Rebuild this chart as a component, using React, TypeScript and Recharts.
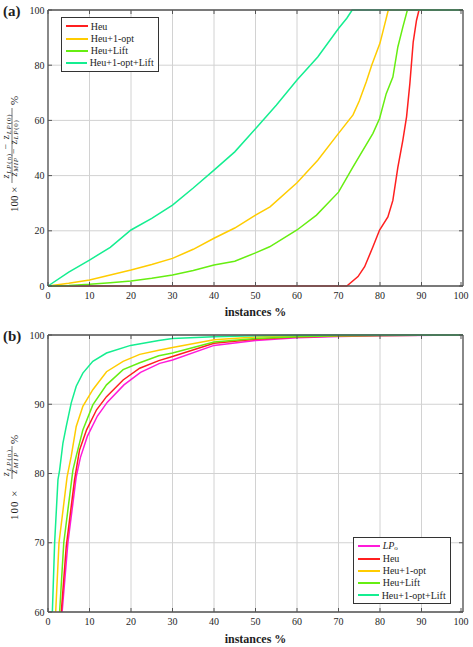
import React from "react";
import { CartesianGrid, Legend, Line, LineChart, ReferenceLine, XAxis, YAxis } from "recharts";

const FONT = "'Liberation Serif', 'DejaVu Serif', serif";
const INK = "#1e1e1e";
const FRAME = "#555555";
const GRID = "#d2d2d2";

const LP0_COLOR = "#ff1ad9";
const HEU_COLOR = "#ff1f1f";
const OPT_COLOR = "#ffcc00";
const LIFT_COLOR = "#66ee11";
const BOTH_COLOR = "#14ee90";

const xTicks = [0, 10, 20, 30, 40, 50, 60, 70, 80, 90, 100];
const yTicksA = [0, 20, 40, 60, 80, 100];
const yTicksB = [60, 70, 80, 90, 100];

// (a) gap closed, per share of instances
const heuAX = [0, 72, 74.7, 76.3, 78.3, 79.9, 81.9, 83.1, 84.3, 85.5, 86.4, 87.2, 88, 88.8, 89.4, 100];
const heuAY = [0, 0, 3.4, 7, 14.2, 20.3, 25, 31, 43, 52.8, 61.3, 73.4, 88.4, 96.3, 100, 100];
const optAX = [0, 5, 10, 15, 20, 25, 30, 35, 40, 45, 50, 53.5, 60, 65, 70, 73.5, 75, 76.7, 78, 80, 81, 82, 100];
const optAY = [0, 1, 2.2, 4, 5.8, 7.8, 10, 13.3, 17.3, 21, 25.7, 28.7, 37.4, 45.6, 55.3, 62, 67, 74, 80, 88, 94, 100, 100];
const liftAX = [0, 5, 10, 15, 20, 25, 30, 35, 40, 45, 50, 53.4, 60, 64.7, 70, 73.5, 78.3, 79.9, 81.5, 83.1, 84.3, 85.5, 86.6, 100];
const liftAY = [0, 0.2, 0.6, 1.2, 1.8, 2.8, 4, 5.6, 7.6, 9, 12, 14.2, 20.3, 25.7, 34, 43.2, 55.3, 60.7, 69.7, 75.7, 86.6, 93.8, 100, 100];
const bothAX = [0, 5, 10, 15, 20, 25, 30, 35, 40, 45, 50, 55, 60, 65, 70, 72, 73.3, 100];
const bothAY = [0, 5, 9.4, 14, 20.3, 24.5, 29.3, 35.5, 42, 48.6, 57, 65.5, 74.6, 83, 93.3, 97, 100, 100];

// (b) LP bound vs MIP, per share of instances
const lp0BX = [3.4, 4.8, 6.8, 7.8, 9.5, 11.9, 14.3, 18.3, 22.3, 26.9, 30, 40, 50, 60, 70, 80, 100];
const lp0BY = [60, 70, 79.5, 82.3, 85.4, 88.3, 90.3, 92.8, 94.6, 95.9, 96.4, 98.5, 99.2, 99.6, 99.8, 99.9, 100];
const heuBX = [3.2, 4.4, 6.4, 7.6, 9.3, 11.7, 14.1, 18.1, 22.1, 26.7, 30, 40, 50, 60, 70, 80, 100];
const heuBY = [60, 69.5, 79.1, 83.4, 86.3, 89.2, 91.1, 93.5, 95.2, 96.3, 96.9, 98.8, 99.4, 99.7, 99.85, 99.93, 100];
const optBX = [1.85, 2.65, 4.6, 5.6, 6.8, 8.4, 10.8, 14.1, 18.1, 22.1, 26.7, 30, 40, 50, 60, 70, 80, 100];
const optBY = [60, 70, 79.5, 82.5, 86.8, 89.7, 92.1, 94.7, 96.2, 97.2, 97.8, 98.2, 99.3, 99.7, 99.85, 99.92, 99.96, 100];
const liftBX = [2.8, 3.8, 6, 6.8, 8.4, 10.8, 14.1, 18.1, 22.1, 26.7, 30, 40, 50, 60, 70, 80, 100];
const liftBY = [60, 70, 80.5, 82.5, 86.3, 89.9, 92.8, 95, 96, 97, 97.4, 99, 99.5, 99.75, 99.88, 99.94, 100];
const bothBX = [1.05, 1.6, 2.4, 2.8, 3.6, 4.4, 5.6, 6.8, 8.4, 10.8, 14.1, 19.9, 26.7, 30, 40, 50, 60, 70, 80, 100];
const bothBY = [60, 70, 79.1, 80.5, 84.4, 86.8, 90.2, 92.6, 94.5, 96.2, 97.4, 98.5, 99.2, 99.5, 99.75, 99.9, 99.97, 100, 100, 100];

const toPoints = (xs: number[], ys: number[]) => xs.map((x, i) => ({ x, y: ys[i] }));

type Series = { key: string; name: string; color: string; data: { x: number; y: number }[] };

const seriesA: Series[] = [
  { key: "heu", name: "Heu", color: HEU_COLOR, data: toPoints(heuAX, heuAY) },
  { key: "opt", name: "Heu+1-opt", color: OPT_COLOR, data: toPoints(optAX, optAY) },
  { key: "lift", name: "Heu+Lift", color: LIFT_COLOR, data: toPoints(liftAX, liftAY) },
  { key: "both", name: "Heu+1-opt+Lift", color: BOTH_COLOR, data: toPoints(bothAX, bothAY) },
];

const seriesB: Series[] = [
  { key: "lp0", name: "LP0", color: LP0_COLOR, data: toPoints(lp0BX, lp0BY) },
  { key: "heu", name: "Heu", color: HEU_COLOR, data: toPoints(heuBX, heuBY) },
  { key: "opt", name: "Heu+1-opt", color: OPT_COLOR, data: toPoints(optBX, optBY) },
  { key: "lift", name: "Heu+Lift", color: LIFT_COLOR, data: toPoints(liftBX, liftBY) },
  { key: "both", name: "Heu+1-opt+Lift", color: BOTH_COLOR, data: toPoints(bothBX, bothBY) },
];

const W = 473;
const PLOT_W = 415;
const SUB = 7;
const DROP = 1.4;

function XTick({ x, y, payload, plotH }: any) {
  return (
    <g>
      <line x1={x} x2={x} y1={y} y2={y - 4} stroke={FRAME} strokeWidth={1} />
      <line x1={x} x2={x} y1={y - plotH} y2={y - plotH + 4} stroke={FRAME} strokeWidth={1} />
      <text x={x} y={y + 12.5} textAnchor="middle" fontSize={10} fill={INK} fontFamily={FONT}>
        {payload.value}
      </text>
    </g>
  );
}

function YTick({ x, y, payload }: any) {
  return (
    <g>
      <line x1={x} x2={x + 4} y1={y} y2={y} stroke={FRAME} strokeWidth={1} />
      <line x1={x + PLOT_W} x2={x + PLOT_W - 4} y1={y} y2={y} stroke={FRAME} strokeWidth={1} />
      <text x={x - 3.5} y={y + 3.5} textAnchor="end" fontSize={10} fill={INK} fontFamily={FONT}>
        {payload.value}
      </text>
    </g>
  );
}

const LegendName = ({ name }: { name: string }) =>
  name === "LP0" ? (
    <span>
      <i>LP</i>
      <sub style={{ fontSize: 7, verticalAlign: "-1px" }}>o</sub>
    </span>
  ) : (
    <span>{name}</span>
  );

function LegendBox({ series }: { series: Series[] }) {
  return (
    <div
      style={{
        boxSizing: "border-box",
        width: 98,
        border: "1px solid #333",
        background: "#fff",
        padding: "2px 4px",
        fontFamily: FONT,
        fontSize: 10,
        color: INK,
      }}
    >
      {series.map((s) => (
        <div key={s.key} style={{ display: "flex", alignItems: "center", height: 12.2, whiteSpace: "nowrap" }}>
          <span style={{ display: "inline-block", width: 22, height: 2, background: s.color, marginRight: 3 }} />
          <LegendName name={s.name} />
        </div>
      ))}
    </div>
  );
}

function YLabelA() {
  return (
    <g transform="translate(18,212) rotate(-90)" fill={INK} fontFamily={FONT}>
      <text x={0} y={0} fontSize={11}>
        100 ×
      </text>
      <text x={66} y={-8.6} fontSize={10} textAnchor="middle" letterSpacing={0.9}>
        <tspan fontStyle="italic">z</tspan>
        <tspan fontSize={SUB} dy={DROP} fontStyle="italic">LP</tspan>
        <tspan fontSize={SUB}>(n)</tspan>
        <tspan dy={-DROP}> − z</tspan>
        <tspan fontSize={SUB} dy={DROP} fontStyle="italic">LP</tspan>
        <tspan fontSize={SUB}>(0)</tspan>
      </text>
      <line x1={29} x2={104} y1={-6} y2={-6} stroke={INK} strokeWidth={0.6} />
      <text x={64} y={-1.2} fontSize={10} textAnchor="middle" letterSpacing={0.7}>
        <tspan fontStyle="italic">z</tspan>
        <tspan fontSize={SUB} dy={DROP} fontStyle="italic">MIP</tspan>
        <tspan dy={-DROP}> − z</tspan>
        <tspan fontSize={SUB} dy={DROP} fontStyle="italic">LP</tspan>
        <tspan fontSize={SUB}>(0)</tspan>
      </text>
      <text x={107} y={0} fontSize={11}>
        %
      </text>
    </g>
  );
}

function YLabelB() {
  return (
    <g transform="translate(18,200) rotate(-90)" fill={INK} fontFamily={FONT}>
      <text x={0} y={0} fontSize={11} letterSpacing={1}>
        100 ×
      </text>
      <text x={57.5} y={-8.6} fontSize={10} textAnchor="middle" letterSpacing={1.2}>
        <tspan fontStyle="italic">z</tspan>
        <tspan fontSize={SUB} dy={DROP} fontStyle="italic">LP</tspan>
        <tspan fontSize={SUB}>(n)</tspan>
      </text>
      <line x1={41} x2={74} y1={-6} y2={-6} stroke={INK} strokeWidth={0.6} />
      <text x={57.5} y={-1.2} fontSize={10} textAnchor="middle" letterSpacing={1.5}>
        <tspan fontStyle="italic">z</tspan>
        <tspan fontSize={SUB} dy={DROP} fontStyle="italic">MIP</tspan>
      </text>
      <text x={76} y={0} fontSize={11}>
        %
      </text>
    </g>
  );
}

function Panel({
  series,
  height,
  top,
  yDomain,
  yTicks,
  plotH,
  YLabel,
  legendPos,
}: {
  series: Series[];
  height: number;
  top: number;
  yDomain: [number, number];
  yTicks: number[];
  plotH: number;
  YLabel: () => React.ReactElement;
  legendPos: { left: number; top: number };
}) {
  return (
    <LineChart width={W} height={height} margin={{ top, right: 10, left: 0, bottom: 0 }}>
      <CartesianGrid stroke={GRID} strokeWidth={1} />
      <XAxis
        dataKey="x"
        type="number"
        domain={[0, 100]}
        ticks={xTicks}
        height={height - top - plotH}
        axisLine={false}
        tickLine={false}
        tickSize={0}
        tickMargin={0}
        tick={(p: any) => <XTick {...p} plotH={plotH} />}
        label={{
          value: "instances %",
          position: "insideBottom",
          offset: 4,
          fontSize: 12,
          fontWeight: 700,
          fill: INK,
          fontFamily: FONT,
        }}
      />
      <YAxis
        type="number"
        domain={yDomain}
        ticks={yTicks}
        width={48}
        axisLine={false}
        tickLine={false}
        tickSize={0}
        tickMargin={0}
        tick={(p: any) => <YTick {...p} />}
        label={() => <YLabel />}
      />
      {series.map((s) => (
        <Line
          key={s.key}
          data={s.data}
          dataKey="y"
          name={s.name}
          type="linear"
          stroke={s.color}
          strokeWidth={1.5}
          dot={false}
          activeDot={false}
          isAnimationActive={false}
        />
      ))}
      <ReferenceLine x={0} stroke={FRAME} strokeWidth={1.3} />
      <ReferenceLine x={100} stroke={FRAME} strokeWidth={1.3} />
      <ReferenceLine y={yDomain[0]} stroke={FRAME} strokeWidth={1.3} />
      <ReferenceLine y={yDomain[1]} stroke={FRAME} strokeWidth={1.3} />
      <Legend
        layout="vertical"
        align="center"
        verticalAlign="middle"
        wrapperStyle={{ left: legendPos.left, top: legendPos.top, width: 98, height: "auto" }}
        content={() => <LegendBox series={series} />}
      />
    </LineChart>
  );
}

const tagStyle: React.CSSProperties = {
  position: "absolute",
  left: 3,
  fontFamily: FONT,
  fontWeight: 700,
  fontSize: 15,
  color: INK,
  lineHeight: "15px",
};

export default function App() {
  return (
    <div style={{ position: "absolute", left: 0, top: 0, width: W, height: 647, background: "#fff" }}>
      <div style={{ position: "absolute", left: 0, top: 0 }}>
        <Panel
          series={seriesA}
          height={320}
          top={10}
          yDomain={[0, 100]}
          yTicks={yTicksA}
          plotH={276}
          YLabel={YLabelA}
          legendPos={{ left: 60.7, top: 17.3 }}
        />
      </div>
      <div style={{ position: "absolute", left: 0, top: 320 }}>
        <Panel
          series={seriesB}
          height={327}
          top={15}
          yDomain={[60, 100]}
          yTicks={yTicksB}
          plotH={277}
          YLabel={YLabelB}
          legendPos={{ left: 352.7, top: 217.3 }}
        />
      </div>
      <div style={{ ...tagStyle, top: 4 }}>(a)</div>
      <div style={{ ...tagStyle, top: 329 }}>(b)</div>
    </div>
  );
}
